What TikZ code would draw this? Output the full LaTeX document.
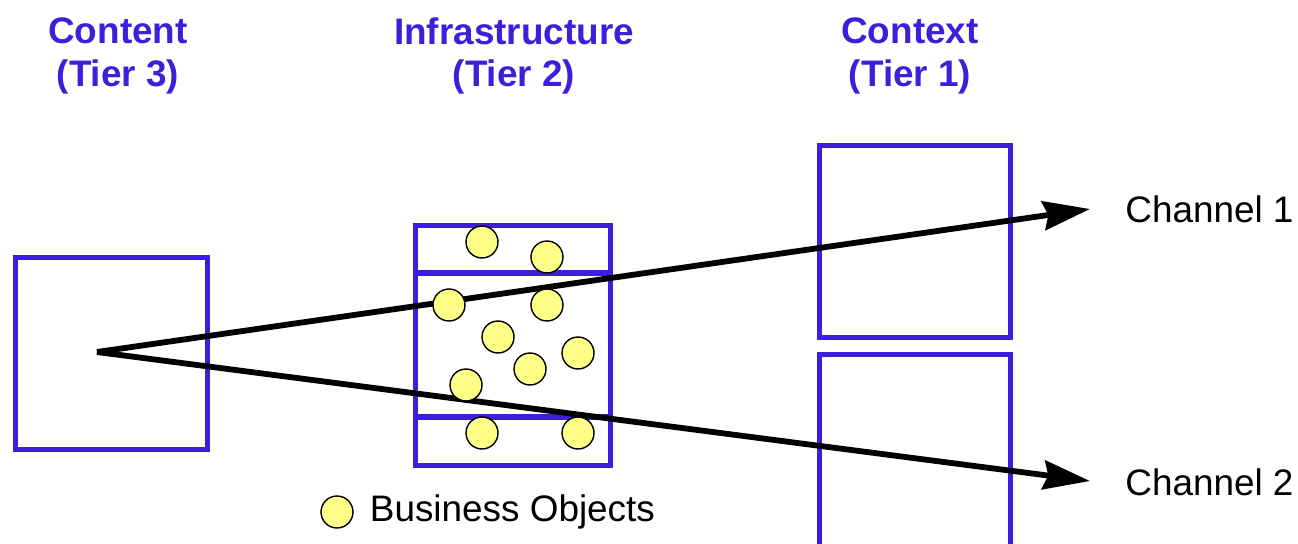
\documentclass[tikz,border=0pt]{standalone}
\usepackage{fontspec}
\setmainfont{Liberation Sans}
\usetikzlibrary{arrows.meta,positioning}
\definecolor{tierblue}{RGB}{62,30,218}
\definecolor{boyellow}{RGB}{255,255,136}
\tikzset{
  tierbox/.style={draw=tierblue,rectangle,line width=3pt,outer sep=0pt,inner sep=0pt},
  bobj/.style={circle,draw,line width=0.8pt,fill=boyellow,minimum size=0.64cm,inner sep=0pt},
  ttl/.style={font=\fontsize{21}{24}\selectfont\bfseries,text=tierblue,align=center},
  lbl/.style={font=\fontsize{21}{25}\selectfont},
  arr/.style={-{Stealth[length=0.94cm,width=0.58cm,inset=0.1cm]},line width=3.3pt}
}
\begin{document}
\begin{tikzpicture}[x=0.02cm,y=-0.02cm]
  \clip (0,0) rectangle (1298,544);
  % tier boxes
  \node[tierbox, minimum width=3.84cm, minimum height=3.84cm] (content) at (111.5,353.5) {};
  \node[tierbox, minimum width=3.9cm, minimum height=2.88cm] (infra_mid) at (513,345) {};
  \node[tierbox, minimum width=3.9cm, minimum height=0.95cm, above=0pt of infra_mid] (infra_top) {};
  \node[tierbox, minimum width=3.9cm, minimum height=0.97cm, below=0pt of infra_mid] (infra_bot) {};
  \node[tierbox, minimum width=3.82cm, minimum height=3.84cm] (ctx_top) at (915,241.5) {};
  \node[tierbox, minimum width=3.82cm, minimum height=3.84cm, below=0.34cm of ctx_top] (ctx_bot) {};

  % titles
  \node[ttl] (ttl_content) at (118,56) {Content\\(Tier 3)};
  \node[ttl] (ttl_infra) at (514,56) {Infrastructure\\(Tier 2)};
  \node[ttl] (ttl_ctx) at (910,56) {Context\\(Tier 1)};

  % channels
  \coordinate (src) at (97,352);
  \coordinate (tip1) at (1090,209);
  \coordinate (tip2) at (1090,481);
  \node[lbl, anchor=west, inner sep=0pt] (ch1) at (1125,209) {Channel 1};
  \node[lbl, anchor=west, inner sep=0pt] (ch2) at (1125,482) {Channel 2};
  \draw[arr] (src) -- (tip1);
  \draw[arr] (src) -- (tip2);

  % business objects
  \node[bobj] (bo1) at (482,242) {};
  \node[bobj] (bo2) at (547,257) {};
  \node[bobj] (bo3) at (449,305) {};
  \node[bobj] (bo4) at (547,305) {};
  \node[bobj] (bo5) at (498,337) {};
  \node[bobj] (bo6) at (578,353) {};
  \node[bobj] (bo7) at (530,369) {};
  \node[bobj] (bo8) at (466,385) {};
  \node[bobj] (bo9) at (482,433) {};
  \node[bobj] (bo10) at (578,433) {};

  % legend
  \node[bobj] (legdot) at (337,512) {};
  \node[lbl, right=0.2cm of legdot] (legtxt) {Business Objects};
\end{tikzpicture}
\end{document}
